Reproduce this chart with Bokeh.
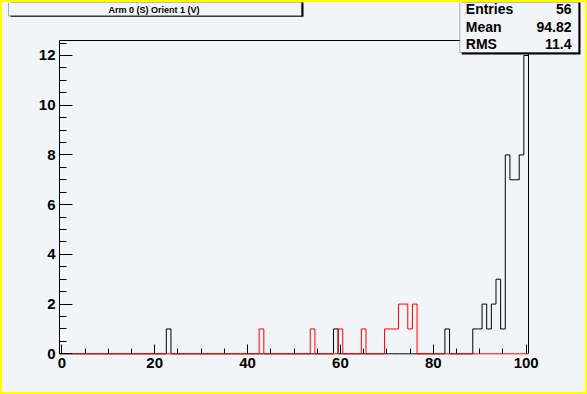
import numpy as np
from bokeh.plotting import figure
from bokeh.models import (Range1d, SingleIntervalTicker, BoxAnnotation, Label,
                          LinearAxis, FixedTicker)
from bokeh.embed import file_html
from bokeh.resources import INLINE

# ---- data ----
title_text = "Arm 0 (S) Orient 1 (V)"
bin_low, bin_high, n_bins = -0.5, 100.5, 101
black_bins = [23, 59, 83, 89, 90, 91, 92, 93, 94, 95, 96, 97, 98, 99, 100]
black_counts = [1, 1, 1, 1, 1, 2, 1, 2, 3, 1, 8, 7, 7, 8, 12]
red_bins = [43, 54, 60, 65, 70, 71, 72, 73, 74, 75, 76]
red_counts = [1, 1, 1, 1, 1, 1, 1, 2, 2, 1, 2]
stat_names = ["Entries", "Mean", "RMS"]
stat_values = ["56", "94.82", "11.4"]
y_max = 12.6

# ---- histogram arrays ----
edges = np.linspace(bin_low, bin_high, n_bins + 1)
centers = 0.5 * (edges[:-1] + edges[1:])


def fill(bins, counts):
    h = np.zeros(n_bins)
    for b, c in zip(bins, counts):
        h[int(np.argmin(np.abs(centers - b)))] = c
    return np.append(h, h[-1])


black_h = fill(black_bins, black_counts)
red_h = fill(red_bins, red_counts)

BG = "#f2f5f7"
FONT = "Liberation Sans"
W, H = 587, 394

# pixel layout of the histogram frame inside the canvas
fx0, fx1 = 57.0, 526.0      # left / right edge of the frame
fy0 = 351.3                 # y = 0 line
ppu_y = 24.86               # pixels per count
ppu_x = (fx1 - fx0) / (bin_high - bin_low)
x_start = bin_low - fx0 / ppu_x
x_end = bin_high + (W - fx1) / ppu_x
y_start = -(H - fy0) / ppu_y
y_end = fy0 / ppu_y

p = figure(width=W, height=H, output_backend="svg", toolbar_location=None,
           x_range=Range1d(x_start, x_end), y_range=Range1d(y_start, y_end),
           x_axis_location=None, y_axis_location=None,
           min_border=0, min_border_left=0, min_border_right=0,
           min_border_top=0, min_border_bottom=0,
           background_fill_color=BG, border_fill_color=BG,
           outline_line_color=None)
p.styles = {"border": "2px solid #ffff00", "box-sizing": "border-box"}
p.xgrid.visible = False
p.ygrid.visible = False

p.step(edges, black_h, mode="after", line_color="black", line_width=1)
p.step(edges, red_h, mode="after", line_color="#ff0000", line_width=1)


def style_axis(ax, tin, min_in):
    ax.major_tick_in = tin
    ax.major_tick_out = 0
    ax.minor_tick_in = min_in
    ax.minor_tick_out = 0
    ax.major_tick_line_color = "black"
    ax.minor_tick_line_color = "black"
    ax.major_label_text_font = FONT
    ax.major_label_text_font_style = "bold"
    ax.major_label_text_font_size = "15px"
    ax.major_label_text_color = "black"
    ax.major_label_standoff = 4


xaxis = LinearAxis(ticker=SingleIntervalTicker(interval=20, num_minor_ticks=4),
                   fixed_location=0, bounds=(bin_low, bin_high),
                   axis_line_color=None)
style_axis(xaxis, 9, 5)
p.add_layout(xaxis, "below")

yaxis = LinearAxis(ticker=SingleIntervalTicker(interval=2, num_minor_ticks=4),
                   fixed_location=bin_low, bounds=(0, y_max),
                   axis_line_color="black")
style_axis(yaxis, 13, 7)
p.add_layout(yaxis, "left")

# frame edges (top and right)
p.add_layout(LinearAxis(ticker=FixedTicker(ticks=[]), fixed_location=y_max,
                        bounds=(bin_low, bin_high),
                        major_label_text_font_size="0px",
                        axis_line_color="black", major_tick_line_color=None,
                        minor_tick_line_color=None), "above")
p.add_layout(LinearAxis(ticker=FixedTicker(ticks=[]), fixed_location=bin_high,
                        bounds=(0, y_max),
                        major_label_text_font_size="0px",
                        axis_line_color="black", major_tick_line_color=None,
                        minor_tick_line_color=None), "right")

# ---- title box ----
canvas = dict(left_units="canvas", right_units="canvas",
              top_units="canvas", bottom_units="canvas")
p.add_layout(BoxAnnotation(left=6, right=299, top=-10, bottom=12.3,
                           fill_color="black", fill_alpha=1, line_color=None,
                           **canvas))
p.add_layout(BoxAnnotation(left=4, right=297, top=-10, bottom=11.3,
                           fill_color=BG, fill_alpha=1, line_color="black",
                           line_width=1, **canvas))
p.add_layout(Label(x=149.5, y=5.5, x_units="canvas", y_units="canvas",
                   text=title_text, text_align="center",
                   text_baseline="alphabetic", text_font=FONT,
                   text_font_style="bold", text_font_size="9px",
                   text_color="black"))

# ---- stats box ----
p.add_layout(BoxAnnotation(left=457.3, right=576, top=-10, bottom=50,
                           fill_color="black", fill_alpha=1, line_color=None,
                           **canvas))
p.add_layout(BoxAnnotation(left=455.3, right=574, top=-10, bottom=48,
                           fill_color=BG, fill_alpha=1, line_color="black",
                           line_width=1, **canvas))
row_y = [4.5, 22, 39]
for name, val, yy in zip(stat_names, stat_values, row_y):
    p.add_layout(Label(x=461.3, y=yy, x_units="canvas", y_units="canvas",
                       text=name, text_align="left",
                       text_baseline="alphabetic", text_font=FONT,
                       text_font_style="bold", text_font_size="14px",
                       text_color="black"))
    p.add_layout(Label(x=567, y=yy, x_units="canvas", y_units="canvas",
                       text=val, text_align="right",
                       text_baseline="alphabetic", text_font=FONT,
                       text_font_style="bold", text_font_size="14px",
                       text_color="black"))

open("out.html", "w").write(file_html(p, INLINE))
